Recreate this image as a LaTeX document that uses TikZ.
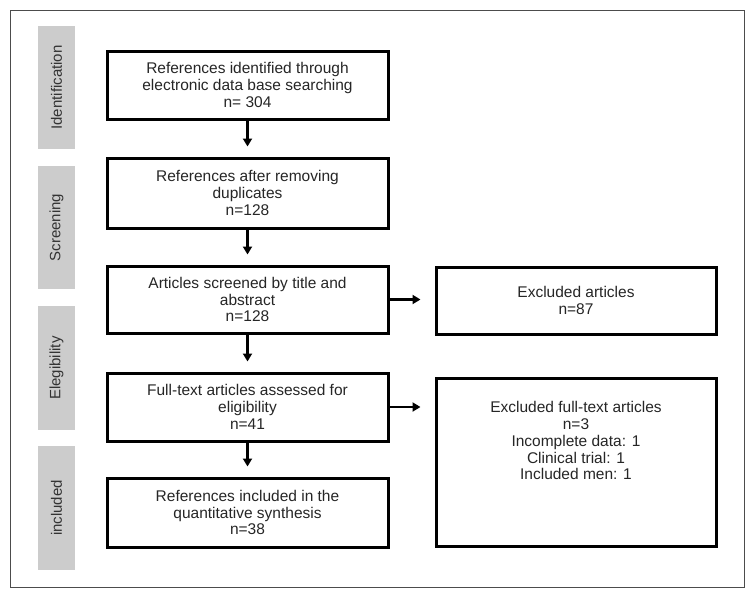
\documentclass[tikz,border=0pt]{standalone}
\usepackage{fontspec}
\setmainfont{Liberation Sans}
\usetikzlibrary{arrows.meta}

\tikzset{
    stage/.style={draw=black, line width=3pt, fill=white, minimum width=281pt, minimum height=68pt,
        align=center, inner sep=0pt, text=black!85, font=\fontsize{15.5}{16.8}\selectfont},
    side/.style={fill=black!20, minimum width=37pt, minimum height=123pt, inner sep=0pt,
        text=black!80, font=\fontsize{15}{16.5}\selectfont, rotate=90},
    flow/.style={line width=2.2pt, -{Triangle[length=8pt,width=9pt]}},
}

\begin{document}
\begin{tikzpicture}[x=1pt, y=-1pt]

    \useasboundingbox (0, 0) rectangle (755, 598);
    \draw[black!70, line width=1pt] (10, 10) rectangle (744, 587);

    % Label phases
    \node[side, minimum width=123pt, minimum height=37pt] (ident) at (56.5, 87.5) {Identification};
    \node[side, minimum width=123pt, minimum height=37pt] (screen) at (56.5, 227.5) {Screening};
    \node[side, minimum width=124pt, minimum height=37pt] (elig) at (56.5, 368) {Elegibility};
    \node[side, minimum width=124pt, minimum height=37pt] (incl) at (56.5, 508) {included};

    % Main column
    \node[stage] (found) at (247.5, 85) {References identified through\\electronic data base searching\\n= 304};
    \node[stage, minimum height=70pt] (dedup) at (247.5, 193) {References after removing\\duplicates\\n=128};
    \node[stage, minimum height=67pt] (screened) at (247.5, 299.5) {Articles screened by title and\\abstract\\n=128};
    \node[stage] (fulltext) at (247.5, 407) {Full-text articles assessed for\\eligibility\\n=41};
    \node[stage, minimum height=69pt] (synth) at (247.5, 512.5) {References included in the\\quantitative synthesis\\n=38};

    % Excluded column
    \node[stage, minimum width=280pt, minimum height=67pt] (excl) at (576, 300.5) {Excluded articles\\n=87};
    \node[stage, minimum width=280pt, minimum height=168pt] (exclft) at (576, 462) {};
    \node[align=center, text=black!85, font=\fontsize{15.5}{16.8}\selectfont, anchor=north] (exclfttext)
        at (576, 398) {Excluded full-text articles\\n=3\\Incomplete data: 1\\Clinical trial: 1\\Included men: 1};

    % Arrows
    \draw[flow, shorten >=10pt] (found) -- (dedup);
    \draw[flow, shorten >=10pt] (dedup) -- (screened);
    \draw[flow, shorten >=10pt] (screened) -- (fulltext);
    \draw[flow, shorten >=10pt] (fulltext) -- (synth);
    \draw[flow, shorten >=14pt] (screened.east) -- (screened.east -| excl.west);
    \draw[flow, shorten >=14pt] (fulltext.east) -- (fulltext.east -| exclft.west);

\end{tikzpicture}
\end{document}
